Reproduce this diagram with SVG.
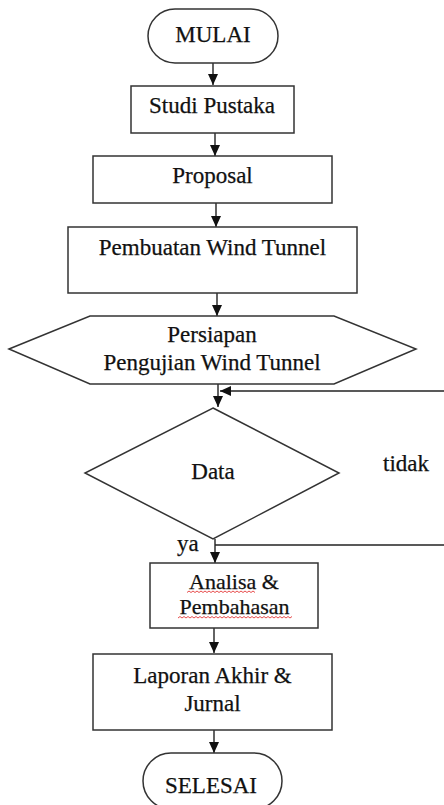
<svg xmlns="http://www.w3.org/2000/svg" width="444" height="805" viewBox="0 0 444 805">
<defs>
<style>
.shape{fill:#fff;stroke:#333;stroke-width:1.5}
.line{fill:none;stroke:#222;stroke-width:1.4}
.t{font-family:"Liberation Serif","Times New Roman",serif;font-size:23px;fill:#111;stroke:#111;stroke-width:0.25;text-anchor:middle}
.l{font-family:"Liberation Serif","Times New Roman",serif;font-size:23px;fill:#111;stroke:#111;stroke-width:0.25}
.s{font-size:22px}
.wave{fill:none;stroke:#e02020;stroke-width:0.8}
</style>
<marker id="arr" markerUnits="userSpaceOnUse" markerWidth="11" markerHeight="10" viewBox="0 0 11 10" refX="11" refY="5" orient="auto">
<path d="M0,0 L11,5 L0,10 z" fill="#111"/>
</marker>
</defs>
<rect width="444" height="805" fill="#fff"/>
<g id="connectors">
<line class="line" x1="213" y1="63" x2="213" y2="85" marker-end="url(#arr)"/>
<line class="line" x1="215" y1="133" x2="215" y2="156" marker-end="url(#arr)"/>
<line class="line" x1="216" y1="203" x2="216" y2="227" marker-end="url(#arr)"/>
<line class="line" x1="217" y1="293" x2="217" y2="316" marker-end="url(#arr)"/>
<line class="line" x1="218" y1="384" x2="218" y2="407" marker-end="url(#arr)"/>
<line class="line" x1="444" y1="391" x2="220" y2="391" marker-end="url(#arr)"/>
<line class="line" x1="215" y1="539" x2="215" y2="563" marker-end="url(#arr)"/>
<line class="line" x1="444" y1="545" x2="215" y2="545"/>
<line class="line" x1="214" y1="628" x2="214" y2="653" marker-end="url(#arr)"/>
<line class="line" x1="214" y1="730" x2="214" y2="753" marker-end="url(#arr)"/>
</g>
<g id="mulai">
<rect class="shape" x="148" y="9" width="130" height="54" rx="27" ry="27"/>
<text class="t" x="213" y="42">MULAI</text>
</g>
<g id="studi-pustaka">
<rect class="shape" x="131" y="86" width="163" height="47"/>
<text class="t" x="212" y="113">Studi Pustaka</text>
</g>
<g id="proposal">
<rect class="shape" x="93" y="156" width="239" height="47"/>
<text class="t" x="212.5" y="183">Proposal</text>
</g>
<g id="pembuatan">
<rect class="shape" x="68" y="227" width="289" height="66"/>
<text class="t" x="212.5" y="255">Pembuatan Wind Tunnel</text>
</g>
<g id="persiapan">
<polygon class="shape" points="9,349 90,316 334,316 416,349 334,384 90,384"/>
<text class="t" x="212" y="342">Persiapan</text>
<text class="t" x="212" y="370">Pengujian Wind Tunnel</text>
</g>
<g id="data">
<polygon class="shape" points="213,408 339,473 213,539 85,473"/>
<text class="t" x="213" y="479">Data</text>
<text class="l" x="383" y="471">tidak</text>
<text class="l" x="177" y="551">ya</text>
</g>
<g id="analisa">
<rect class="shape" x="150" y="563" width="168" height="65"/>
<text class="t s" x="234" y="589">Analisa &amp;</text>
<text class="t s" x="234.5" y="614">Pembahasan</text>
<path class="wave" d="M187,592.5 l2,-1.5 l2,1.5 l2,-1.5 l2,1.5 l2,-1.5 l2,1.5 l2,-1.5 l2,1.5 l2,-1.5 l2,1.5 l2,-1.5 l2,1.5 l2,-1.5 l2,1.5 l2,-1.5 l2,1.5 l2,-1.5 l2,1.5 l2,-1.5 l2,1.5 l2,-1.5 l2,1.5 l2,-1.5 l2,1.5 l2,-1.5 l2,1.5 l2,-1.5 l2,1.5 l2,-1.5 l2,1.5 l2,-1.5 l2,1.5 l2,-1.5 l2,1.5"/>
<path class="wave" d="M178,618 l2,-1.5 l2,1.5 l2,-1.5 l2,1.5 l2,-1.5 l2,1.5 l2,-1.5 l2,1.5 l2,-1.5 l2,1.5 l2,-1.5 l2,1.5 l2,-1.5 l2,1.5 l2,-1.5 l2,1.5 l2,-1.5 l2,1.5 l2,-1.5 l2,1.5 l2,-1.5 l2,1.5 l2,-1.5 l2,1.5 l2,-1.5 l2,1.5 l2,-1.5 l2,1.5 l2,-1.5 l2,1.5 l2,-1.5 l2,1.5 l2,-1.5 l2,1.5 l2,-1.5 l2,1.5 l2,-1.5 l2,1.5 l2,-1.5 l2,1.5 l2,-1.5 l2,1.5 l2,-1.5 l2,1.5 l2,-1.5 l2,1.5 l2,-1.5 l2,1.5 l2,-1.5 l2,1.5 l2,-1.5 l2,1.5 l2,-1.5 l2,1.5 l2,-1.5 l2,1.5 l2,-1.5"/>
</g>
<g id="laporan">
<rect class="shape" x="93" y="654" width="239" height="76"/>
<text class="t" x="212.5" y="683">Laporan Akhir &amp;</text>
<text class="t" x="212.5" y="711">Jurnal</text>
</g>
<g id="selesai">
<rect class="shape" x="143" y="753" width="139" height="56" rx="28" ry="28"/>
<text class="t" x="211" y="793">SELESAI</text>
</g>
</svg>
